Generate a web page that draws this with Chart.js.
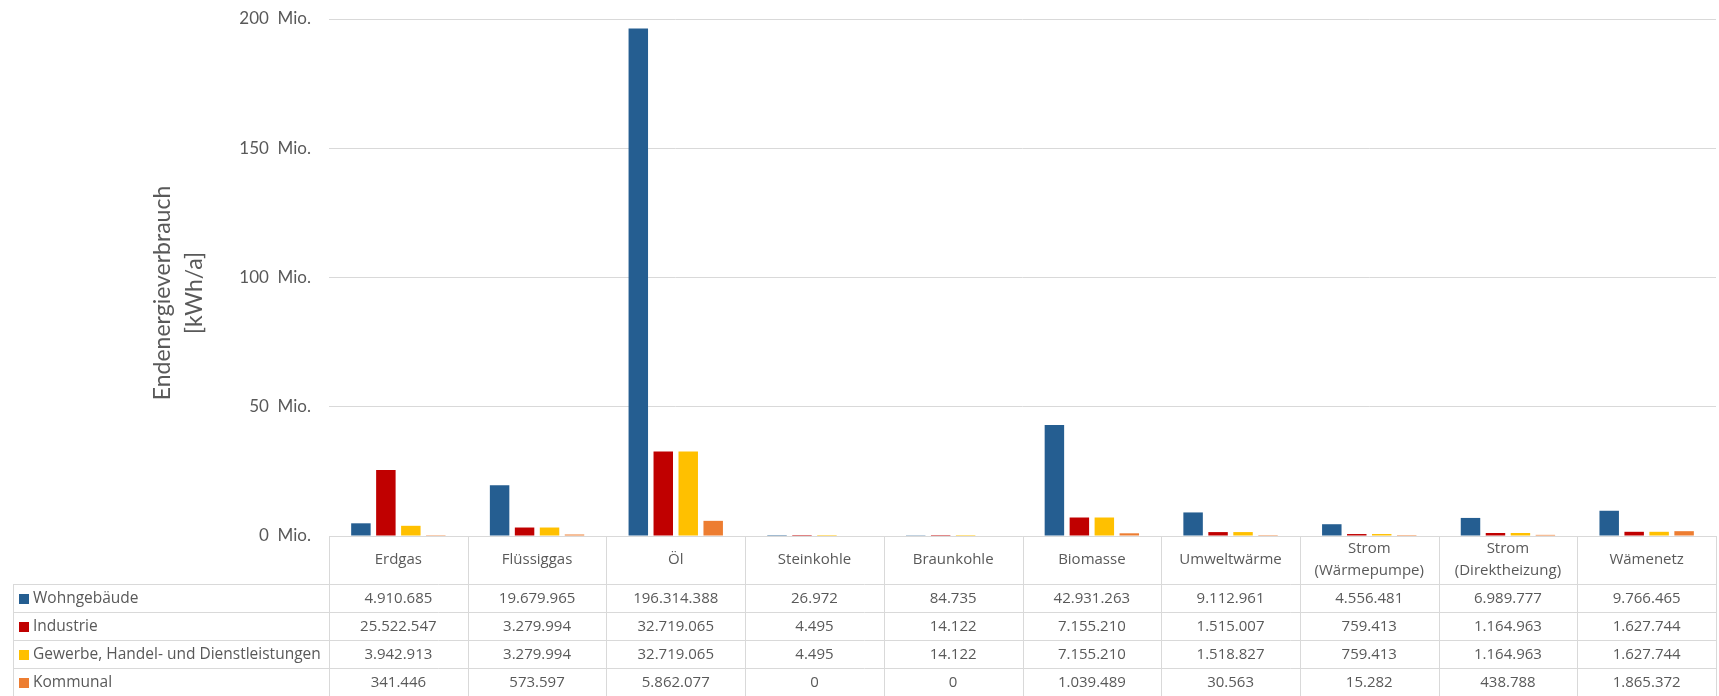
<!DOCTYPE html>
<html>
<head>
<meta charset="utf-8">
<script src="https://cdn.jsdelivr.net/npm/chart.js@4/dist/chart.umd.min.js"></script>
<style>
html,body{margin:0;padding:0;background:#fff;}
#wrap{width:1719px;height:696px;position:relative;}
</style>
</head>
<body>
<div id="wrap"><canvas id="c" width="1719" height="696"></canvas></div>
<script>
const categories = ['Erdgas','Flüssiggas','Öl','Steinkohle','Braunkohle','Biomasse','Umweltwärme',['Strom','(Wärmepumpe)'],['Strom','(Direktheizung)'],'Wämenetz'];
const seriesNames = ['Wohngebäude','Industrie','Gewerbe, Handel- und Dienstleistungen','Kommunal'];
const wohngebaeude = [4910685,19679965,196314388,26972,84735,42931263,9112961,4556481,6989777,9766465];
const industrie = [25522547,3279994,32719065,4495,14122,7155210,1515007,759413,1164963,1627744];
const gewerbe = [3942913,3279994,32719065,4495,14122,7155210,1518827,759413,1164963,1627744];
const kommunal = [341446,573597,5862077,0,0,1039489,30563,15282,438788,1865372];
const yTicks = [0,50000000,100000000,150000000,200000000];
const colors = ['#255E91','#C00000','#FFC000','#ED7D31'];
const FONT = 'Lato';
const TFONT = '"Open Sans"';
const TXT = '#595959';
const LINE = '#D9D9D9';

function fmt(n){ return String(n).replace(/\B(?=(\d{3})+(?!\d))/g,'.'); }

const tablePlugin = {
  id:'dataTable',
  afterDraw(chart){
    const ctx = chart.ctx, x = chart.scales.x, area = chart.chartArea;
    const top = area.bottom, headerH = 48, rowH = 28;
    const n = categories.length;
    const step = (area.right - area.left)/n;
    const left = 13, right = area.right;
    ctx.save();
    ctx.strokeStyle = LINE; ctx.lineWidth = 1;
    ctx.beginPath();
    ctx.moveTo(area.left, top+0.5); ctx.lineTo(right, top+0.5);
    for(let r=0;r<=seriesNames.length;r++){
      const y = Math.round(top+headerH+r*rowH)+0.5;
      ctx.moveTo(left, y); ctx.lineTo(right, y);
    }
    ctx.moveTo(left+0.5, top+headerH); ctx.lineTo(left+0.5, top+headerH+seriesNames.length*rowH);
    for(let i=0;i<=n;i++){
      const xx = Math.round(area.left + i*step)+0.5;
      ctx.moveTo(xx, top); ctx.lineTo(xx, top+headerH+seriesNames.length*rowH);
    }
    ctx.stroke();
    ctx.fillStyle = TXT;
    ctx.font = '15px ' + TFONT;
    ctx.textAlign = 'center'; ctx.textBaseline = 'middle';
    categories.forEach((c,i)=>{
      const cx = x.getPixelForValue(i);
      const lines = Array.isArray(c)?c:[c];
      const lh = 22;
      lines.forEach((l,j)=>{
        ctx.fillText(l, cx, top+headerH/2 + (j-(lines.length-1)/2)*lh);
      });
    });
    const data = [wohngebaeude, industrie, gewerbe, kommunal];
    data.forEach((arr,r)=>{
      const cy = top+headerH+r*rowH+rowH/2+1;
      ctx.font = '15px ' + TFONT;
      arr.forEach((v,i)=>{
        ctx.textAlign='center';
        ctx.fillText(fmt(v), x.getPixelForValue(i), cy);
      });
      ctx.fillStyle = colors[r];
      ctx.fillRect(19, Math.round(cy-5), 10, 10);
      ctx.fillStyle = TXT;
      ctx.textAlign='left';
      ctx.font = '15.5px ' + TFONT;
      ctx.fillText(seriesNames[r], 33, cy);
    });
    ctx.save();
    ctx.font = '23px ' + FONT;
    ctx.fillStyle = TXT;
    ctx.textAlign='center'; ctx.textBaseline='middle';
    ctx.translate(179, 293);
    ctx.rotate(-Math.PI/2);
    ctx.fillText('Endenergieverbrauch', 0, -16);
    ctx.fillText('[kWh/a]', 0, 16);
    ctx.restore();
    ctx.restore();
  }
};

new Chart(document.getElementById('c'), {
  type:'bar',
  data:{
    labels: categories,
    datasets:[
      {label:seriesNames[0], data:wohngebaeude, backgroundColor:colors[0]},
      {label:seriesNames[1], data:industrie, backgroundColor:colors[1]},
      {label:seriesNames[2], data:gewerbe, backgroundColor:colors[2]},
      {label:seriesNames[3], data:kommunal, backgroundColor:colors[3]}
    ]
  },
  options:{
    responsive:false,
    animation:false,
    layout:{padding:{top:19,bottom:160,right:3,left:0}},
    datasets:{bar:{categoryPercentage:0.72, barPercentage:0.78}},
    plugins:{legend:{display:false}, tooltip:{enabled:false}},
    scales:{
      x:{display:false},
      y:{
        min:0, max:200000000,
        afterBuildTicks(s){ s.ticks = yTicks.map(v=>({value:v})); },
        afterFit(s){ s.width = 329; s.paddingTop = 0; s.paddingBottom = 0; },
        grid:{color:LINE, drawTicks:false},
        border:{display:false},
        ticks:{padding:18, color:TXT, font:{family:FONT, size:17},
          callback:(v)=> (v/1000000) + '  Mio.'}
      }
    }
  },
  plugins:[tablePlugin]
});
</script>
</body>
</html>
